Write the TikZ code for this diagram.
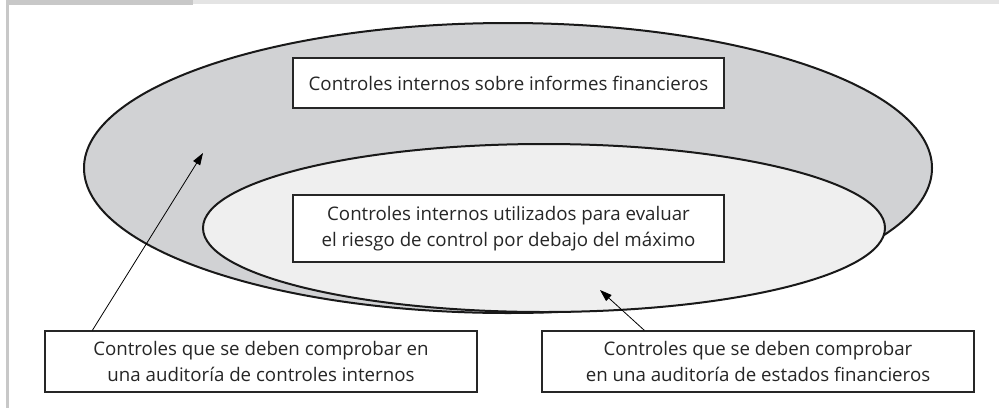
\documentclass[tikz,border=0pt]{standalone}
\usepackage{fontspec}
\setmainfont{Open Sans}
\usetikzlibrary{arrows.meta}
\definecolor{outerfill}{HTML}{D1D2D4}
\definecolor{innerfill}{HTML}{EFEFEF}
\definecolor{barDark}{HTML}{C8C8C8}
\definecolor{barLight}{HTML}{E4E4E4}
\begin{document}
\begin{tikzpicture}[x=1pt,y=-1pt,
  txtbox/.style={draw=black!85,line width=1.3pt,fill=white,align=center,inner sep=0pt,
    font=\fontsize{18.7}{26}\selectfont,text=black!85},
  ring/.style={draw=black!90,line width=2pt},
  pointer/.style={line width=0.8pt,-{Triangle[length=12pt,width=8pt]}}]
\useasboundingbox (0,0) rectangle (999,408);
% frame
\fill[barLight] (193,0) rectangle (999,4);
\fill[barDark] (6,0) rectangle (193,5);
\fill[barDark] (6,0) rectangle (9,408);
% ellipses
\draw[ring,fill=outerfill] (508,168) ellipse [x radius=424, y radius=145];
\draw[ring,fill=innerfill] (544,228) ellipse [x radius=341, y radius=84];
% boxes
\node[txtbox,minimum width=431pt,minimum height=50pt] (top) at (508.5,83) {Controles internos sobre informes financieros};
\node[txtbox,minimum width=431pt,minimum height=67pt] (mid) at (508.5,228.5) {Controles internos utilizados para evaluar\\el riesgo de control por debajo del máximo};
\node[txtbox,minimum width=432pt,minimum height=61pt] (bl) at (261,361.5) {Controles que se deben comprobar en\\una auditoría de controles internos};
\node[txtbox,minimum width=432pt,minimum height=61pt] (br) at (758,361.5) {Controles que se deben comprobar\\en una auditoría de estados financieros};
% arrows
\coordinate (h1) at (203,153);
\coordinate (h2) at (600,290);
\draw[pointer] (bl.north west) ++(48,0) coordinate (t1) -- (h1);
\draw[pointer] (br.north west) ++(103,0) coordinate (t2) -- (h2);
\end{tikzpicture}
\end{document}
